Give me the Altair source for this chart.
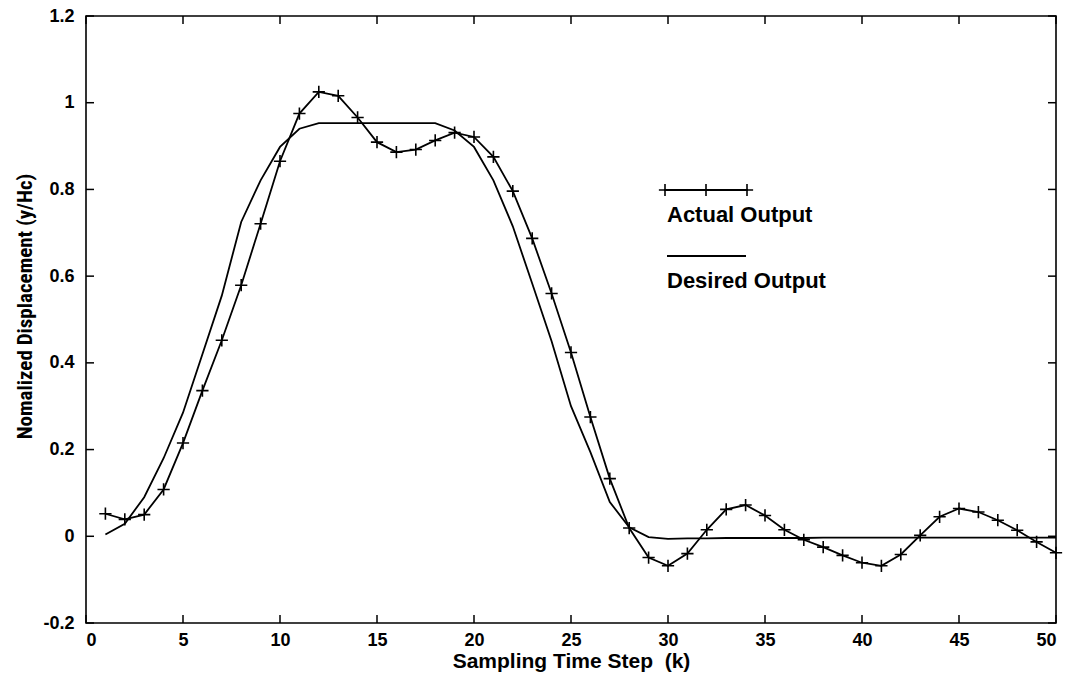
import altair as alt
import pandas as pd

k = list(range(1, 51))
actual = [0.052, 0.039, 0.050, 0.108, 0.215, 0.336, 0.452, 0.579, 0.721, 0.865,
          0.975, 1.025, 1.016, 0.966, 0.909, 0.886, 0.892, 0.913, 0.931, 0.921,
          0.875, 0.796, 0.687, 0.560, 0.424, 0.275, 0.133, 0.019, -0.049, -0.068,
          -0.040, 0.015, 0.062, 0.072, 0.048, 0.015, -0.008, -0.025, -0.044, -0.061,
          -0.068, -0.042, 0.002, 0.045, 0.064, 0.056, 0.037, 0.014, -0.013, -0.038]
desired = [0.004, 0.029, 0.090, 0.180, 0.285, 0.420, 0.555, 0.725, 0.821, 0.898,
           0.940, 0.953, 0.953, 0.953, 0.953, 0.953, 0.953, 0.953, 0.936, 0.898,
           0.821, 0.715, 0.583, 0.450, 0.300, 0.194, 0.079, 0.021, -0.002, -0.006,
           -0.005, -0.005, -0.004, -0.004, -0.004, -0.004, -0.004, -0.003, -0.003, -0.003,
           -0.003, -0.003, -0.003, -0.003, -0.003, -0.003, -0.003, -0.003, -0.003, -0.003]
x_ticks = [0, 5, 10, 15, 20, 25, 30, 35, 40, 45, 50]
y_ticks = [-0.2, 0, 0.2, 0.4, 0.6, 0.8, 1.0, 1.2]

W, H = 970, 607
FONT = "Liberation Sans"
NARROW = "Liberation Sans Narrow, Arial Narrow, Roboto Condensed, DejaVu Sans Condensed, Liberation Sans, sans-serif"
PLUS = "M-1,0L1,0M0,-1L0,1"

df = pd.DataFrame({"k": k, "actual": actual, "desired": desired})
xs = alt.Scale(domain=[0, 50], nice=False, zero=False)
ys = alt.Scale(domain=[-0.2, 1.2], nice=False, zero=False)

x_enc = alt.X("k:Q", scale=xs, axis=alt.Axis(
    values=x_ticks, title="Sampling Time Step\u00a0\u00a0(k)", grid=False, domain=False, ticks=False,
    labelFont=FONT, labelFontSize=18, labelFontWeight="bold", labelColor="black",
    labelPadding=8, titleFont=FONT, titleFontSize=21, titleFontWeight="bold",
    titleColor="black", titlePadding=1))

base = alt.Chart(df)
desired_line = base.mark_line(color="black", strokeWidth=1.8).encode(
    x=x_enc,
    y=alt.Y("desired:Q", scale=ys, axis=alt.Axis(
        values=y_ticks, title="Nomalized Displacement (y/Hc)", grid=False, domain=False,
        ticks=False, labelFont=FONT, labelFontSize=18, labelFontWeight="bold",
        labelColor="black", labelPadding=12,
        labelExpr="datum.value == 0 ? '0' : (datum.value == 1 ? '1' : replace(format(datum.value, '.1f'), '\u2212', '-'))",
        titleFont=NARROW, titleFontSize=21, titleFontWeight="bold",
        titleColor="black", titlePadding=7, titleY=290)))
actual_line = base.mark_line(color="black", strokeWidth=1.8).encode(
    x=alt.X("k:Q", scale=xs), y=alt.Y("actual:Q", scale=ys))
actual_pts = base.mark_point(shape=PLUS, size=150, color="black", strokeWidth=1.6,
                             filled=False, opacity=1).encode(
    x=alt.X("k:Q", scale=xs), y=alt.Y("actual:Q", scale=ys))

# inward ticks on all four sides
xt = alt.Chart(pd.DataFrame({"t": x_ticks}))
yt = alt.Chart(pd.DataFrame({"t": y_ticks}))
tick_b = xt.mark_rule(color="black", strokeWidth=1.5).encode(
    x=alt.X("t:Q", scale=xs), y=alt.value(H), y2=alt.value(H - 8))
tick_t = xt.mark_rule(color="black", strokeWidth=1.5).encode(
    x=alt.X("t:Q", scale=xs), y=alt.value(0), y2=alt.value(8))
tick_l = yt.mark_rule(color="black", strokeWidth=1.5).encode(
    y=alt.Y("t:Q", scale=ys), x=alt.value(0), x2=alt.value(8))
tick_r = yt.mark_rule(color="black", strokeWidth=1.5).encode(
    y=alt.Y("t:Q", scale=ys), x=alt.value(W), x2=alt.value(W - 8))

# legend (drawn in pixel space)
one = alt.Data(values=[{}])
leg_a_line = alt.Chart(one).mark_rule(color="black", strokeWidth=1.8).encode(
    x=alt.value(578), x2=alt.value(662), y=alt.value(174))
leg_a_pts = alt.Chart(alt.Data(values=[{"p": 579}, {"p": 620}, {"p": 661}])).mark_point(
    shape=PLUS, size=150, color="black", strokeWidth=1.6, filled=False, opacity=1).encode(
    x=alt.X("p:Q", scale=None), y=alt.value(174))
leg_a_txt = alt.Chart(one).mark_text(text="Actual Output", font=FONT, fontSize=22,
                                     fontWeight="bold", align="left", baseline="middle",
                                     color="black").encode(x=alt.value(581), y=alt.value(199))
leg_d_line = alt.Chart(one).mark_rule(color="black", strokeWidth=1.8).encode(
    x=alt.value(581), x2=alt.value(660), y=alt.value(240))
leg_d_txt = alt.Chart(one).mark_text(text="Desired Output", font=FONT, fontSize=22,
                                     fontWeight="bold", align="left", baseline="middle",
                                     color="black").encode(x=alt.value(581), y=alt.value(265))

chart = alt.layer(
    desired_line, actual_line, actual_pts, tick_b, tick_t, tick_l, tick_r,
    leg_a_line, leg_a_pts, leg_a_txt, leg_d_line, leg_d_txt
).properties(
    width=W, height=H,
    autosize=alt.AutoSizeParams(type="none"),
    padding={"left": 86, "top": 16, "right": 18, "bottom": 63},
    background="white",
).configure_view(stroke="black", strokeWidth=1.6)

chart.save("out.html", embed_options={"renderer": "svg", "actions": False})
